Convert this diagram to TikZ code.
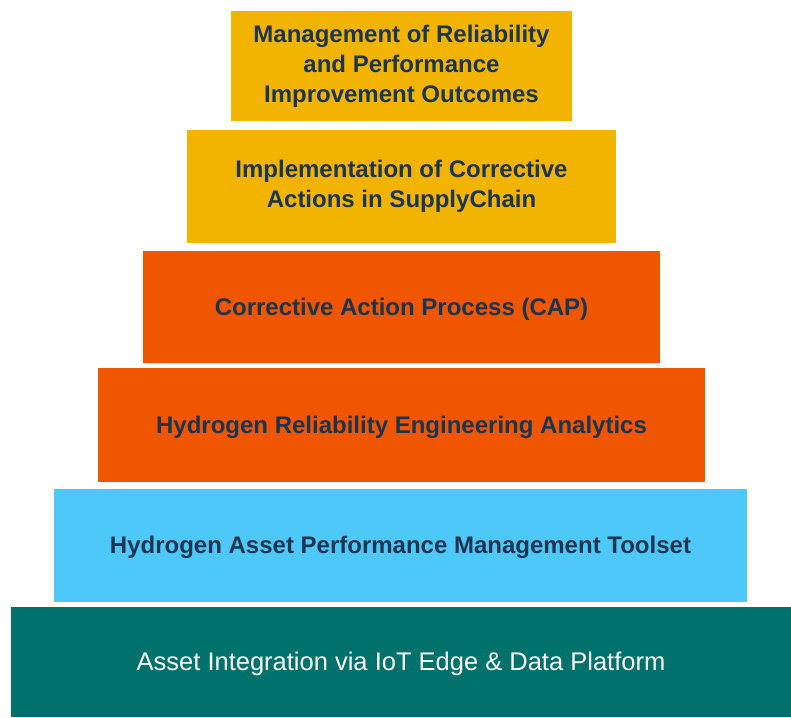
\documentclass[tikz,border=0pt]{standalone}
\usepackage{fontspec}
\setmainfont{Liberation Sans}
\definecolor{goldtier}{HTML}{F2B400}
\definecolor{orangetier}{HTML}{F05500}
\definecolor{skytier}{HTML}{4DC8F8}
\definecolor{tealtier}{HTML}{00716B}
\definecolor{navytext}{HTML}{1B3550}
\tikzset{
  tier/.style={rectangle, draw=none, inner sep=0pt, align=center,
    font=\bfseries\fontsize{24}{30}\selectfont, text=navytext},
  % single-line tiers: fixed text box so the label sits a little lower
  onelinetier/.style={tier, text height=19pt, text depth=3pt},
  basetier/.style={onelinetier, font=\fontsize{25.5}{30}\selectfont, text=white}
}
\begin{document}
\begin{tikzpicture}[x=1pt,y=-1pt]
  \useasboundingbox (0,0) rectangle (791,717);
  % pyramid tiers, top to bottom
  \node[tier, fill=goldtier, minimum width=341pt, minimum height=110pt] (outcomes) at (401.5,66)
    {Management of Reliability\\and Performance\\Improvement Outcomes};
  \node[tier, fill=goldtier, minimum width=429pt, minimum height=113pt] (supply) at (401.5,186)
    {Implementation of Corrective\\Actions in SupplyChain};
  \node[onelinetier, fill=orangetier, minimum width=517pt, minimum height=112pt] (cap) at (401.5,307)
    {Corrective Action Process (CAP)};
  \node[onelinetier, fill=orangetier, minimum width=607pt, minimum height=114pt] (analytics) at (401.5,425)
    {Hydrogen Reliability Engineering Analytics};
  \node[onelinetier, fill=skytier, minimum width=693pt, minimum height=113pt] (toolset) at (400.5,545.5)
    {Hydrogen Asset Performance Management Toolset};
  \node[basetier, fill=tealtier, minimum width=780pt, minimum height=110pt] (platform) at (401,662)
    {Asset Integration via IoT Edge \& Data Platform};
\end{tikzpicture}
\end{document}
